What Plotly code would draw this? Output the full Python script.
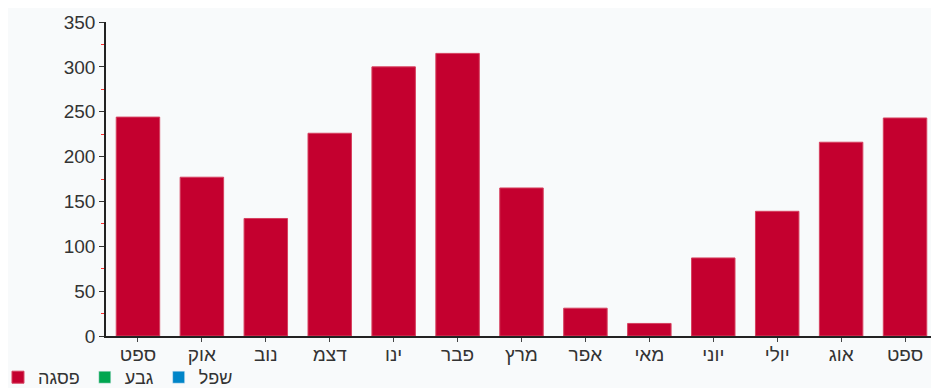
import plotly.graph_objects as go

months = ['ספט', 'אוק', 'נוב', 'דצמ', 'ינו', 'פבר', 'מרץ', 'אפר', 'מאי', 'יוני', 'יולי', 'אוג', 'ספט']
peak = [244, 177, 131, 226, 300, 315, 165, 31, 14, 87, 139, 216, 243]
series_names = ['פסגה', 'גבע', 'שפל']
series_colors = ['#c4002f', '#00a650', '#0085c8']
y_ticks = [0, 50, 100, 150, 200, 250, 300, 350]

xpos = list(range(len(months)))

fig = go.Figure()
fig.add_trace(go.Bar(x=xpos, y=peak, name=series_names[0],
                     marker=dict(color=series_colors[0], line=dict(color='#d6405f', width=1))))
fig.add_trace(go.Bar(x=xpos, y=[None] * len(months), name=series_names[1],
                     marker=dict(color=series_colors[1])))
fig.add_trace(go.Bar(x=xpos, y=[None] * len(months), name=series_names[2],
                     marker=dict(color=series_colors[2])))

font_family = 'Liberation Sans, Arial, sans-serif'
fig.update_layout(
    width=939, height=388,
    margin=dict(l=98, r=10, t=14, b=60, autoexpand=False),
    paper_bgcolor='#f8fafb',
    plot_bgcolor='rgba(0,0,0,0)',
    barmode='overlay',
    bargap=0.32,
    font=dict(family=font_family, size=19, color='#333333'),
    showlegend=True,
    legend=dict(orientation='h', xref='paper', yref='container', x=-0.13, y=0.0,
                xanchor='left', yanchor='bottom', traceorder='normal',
                font=dict(size=18, color='#333333'), bgcolor='rgba(0,0,0,0)',
                itemwidth=30, tracegroupgap=0),
    xaxis=dict(range=[-0.5, 12.5], tickmode='array', tickvals=xpos, ticktext=months,
               showline=True, linecolor='#222222', linewidth=1.5, ticks='outside',
               ticklen=4, tickcolor='#444444', showgrid=False, zeroline=False,
               ticklabelstandoff=-4, fixedrange=True),
    yaxis=dict(range=[0, 350], tickmode='array', tickvals=y_ticks,
               showline=True, linecolor='#222222', linewidth=1.5, ticks='outside',
               ticklen=5, tickcolor='#333333', showgrid=False, zeroline=False,
               minor=dict(dtick=25, ticks='outside', ticklen=3, tickcolor='#ff3030'),
               fixedrange=True),
)

fig.write_html('out.html')
